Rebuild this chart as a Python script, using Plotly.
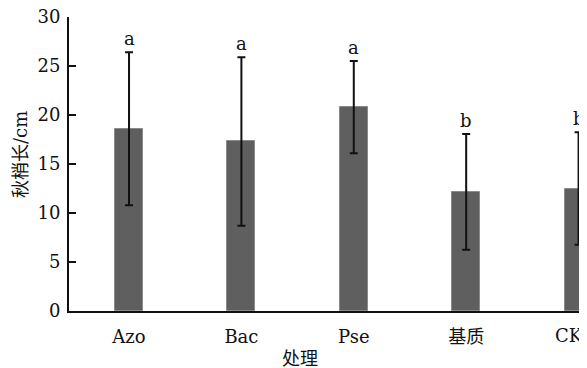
import plotly.graph_objects as go

categories = ["Azo", "Bac", "Pse", "基质", "CK"]
means = [18.6, 17.3, 20.8, 12.15, 12.5]
errors = [7.8, 8.6, 4.7, 5.9, 5.75]
letters = ["a", "a", "a", "b", "b"]
y_ticks = [0, 5, 10, 15, 20, 25, 30]

serif = "DejaVu Serif, Noto Sans CJK SC, serif"
ink = "#111111"

# page body puts the figure at an 8px offset; figure sized to fill the rest of the window
W, H = 579, 360
plot_l, plot_top, plot_bottom = 61, 9, 303
plot_w = W - plot_l
plot_h = plot_bottom - plot_top

fig = go.Figure()
fig.add_trace(go.Bar(
    x=list(range(len(categories))),
    y=means,
    width=0.25,
    marker=dict(color="#5f5f5f", line=dict(color="#8a8a8a", width=1)),
    error_y=dict(type="data", array=errors, visible=True, color=ink,
                 thickness=2, width=4),
    showlegend=False,
    cliponaxis=False,
))

for i, (m, e, l) in enumerate(zip(means, errors, letters)):
    fig.add_annotation(x=i, y=m + e, text=l, showarrow=False, yanchor="bottom",
                       yshift=1, font=dict(family=serif, size=18, color=ink))

# last category label sits against the right edge, slightly left of its bar
ticktext = categories[:-1] + [""]
fig.add_annotation(xref="paper", yref="paper", x=1.0, y=(plot_bottom - 327) / plot_h,
                   xanchor="right", yanchor="middle", xshift=-2,
                   text=categories[-1], showarrow=False,
                   font=dict(family=serif, size=18, color=ink))

fig.add_annotation(xref="paper", yref="paper",
                   x=(12 - plot_l) / plot_w, y=(plot_bottom - 147) / plot_h,
                   xanchor="center", yanchor="middle",
                   text="秋梢长/cm", textangle=-90, showarrow=False,
                   font=dict(family=serif, size=18, color=ink))
fig.add_annotation(xref="paper", yref="paper",
                   x=(292 - plot_l) / plot_w, y=(plot_bottom - 350) / plot_h,
                   xanchor="center", yanchor="middle",
                   text="处理", showarrow=False,
                   font=dict(family=serif, size=18, color=ink))

fig.update_layout(
    width=W, height=H,
    margin=dict(l=plot_l, r=0, t=plot_top, b=H - plot_bottom),
    paper_bgcolor="white", plot_bgcolor="white",
    bargap=0,
    xaxis=dict(
        range=[-0.534, 4.075], automargin=False,
        tickmode="array", tickvals=list(range(len(categories))), ticktext=ticktext,
        showline=True, linecolor=ink, linewidth=2,
        ticks="", showgrid=False, zeroline=False, ticklabelstandoff=8,
        ticklabeloverflow="allow",
        tickfont=dict(family=serif, size=18, color=ink),
    ),
    yaxis=dict(
        range=[0, 30], automargin=False,
        tickmode="array", tickvals=y_ticks,
        showline=True, linecolor=ink, linewidth=2,
        ticks="inside", ticklen=7, tickwidth=2, tickcolor=ink,
        showgrid=False, zeroline=False, ticklabelstandoff=3,
        ticklabeloverflow="allow",
        tickfont=dict(family=serif, size=18, color=ink),
    ),
)

fig.write_html("out.html")
